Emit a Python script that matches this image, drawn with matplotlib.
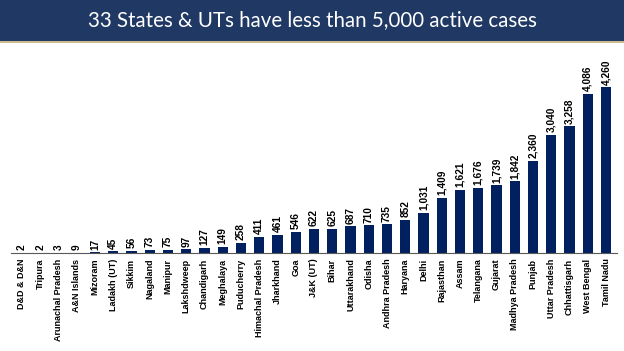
import matplotlib.pyplot as plt
from matplotlib.patches import Rectangle

states = ['D&D & D&N', 'Tripura', 'Arunachal Pradesh', 'A&N Islands', 'Mizoram',
          'Ladakh (UT)', 'Sikkim', 'Nagaland', 'Manipur', 'Lakshdweep', 'Chandigarh',
          'Meghalaya', 'Puducherry', 'Himachal Pradesh', 'Jharkhand', 'Goa', 'J&K (UT)',
          'Bihar', 'Uttarakhand', 'Odisha', 'Andhra Pradesh', 'Haryana', 'Delhi',
          'Rajasthan', 'Assam', 'Telangana', 'Gujarat', 'Madhya Pradesh', 'Punjab',
          'Uttar Pradesh', 'Chhattisgarh', 'West Bengal', 'Tamil Nadu']
active = [2, 2, 3, 9, 17, 45, 56, 73, 75, 97, 127, 149, 258, 411, 461, 546, 622,
          625, 687, 710, 735, 852, 1031, 1409, 1621, 1676, 1739, 1842, 2360, 3040,
          3258, 4086, 4260]

title = '33 States & UTs have less than 5,000 active cases'
navy = '#002060'

W, H = 624, 351
fig = plt.figure(figsize=(W / 100, H / 100), dpi=100)

# title banner
fig.patches.append(Rectangle((0, 1 - 41 / H), 1, 41 / H, transform=fig.transFigure,
                             facecolor='#1F3864', edgecolor='none', zorder=0))
fig.patches.append(Rectangle((0, 1 - 43 / H), 1, 2 / H, transform=fig.transFigure,
                             facecolor='#C9BC8E', edgecolor='none', zorder=0))
fig.text(0.5, 1 - 20 / H, title, color='white', ha='center', va='center',
         fontsize=14.8, family='Lato')

ax = fig.add_axes([11 / W, (H - 253) / H, 606 / W, 193 / H])
x = range(len(states))
ax.bar(x, active, width=0.56, color=navy)
ax.set_xlim(-0.6, 32.6)
ax.set_ylim(0, 4960)

for i, v in zip(x, active):
    ax.text(i, v + 70, f'{v:,}', rotation=90, ha='center', va='bottom',
            fontsize=7.3, fontweight='bold', family='Liberation Sans')

ax.set_xticks(list(x))
ax.set_xticklabels(states, rotation=90, fontsize=6.5, fontweight='bold',
                   family='Liberation Sans')
ax.tick_params(axis='x', length=0, pad=4)
ax.set_yticks([])
for s in ['top', 'right', 'left']:
    ax.spines[s].set_visible(False)
ax.spines['bottom'].set_color('#595959')

plt.savefig('out.png', dpi=100)
